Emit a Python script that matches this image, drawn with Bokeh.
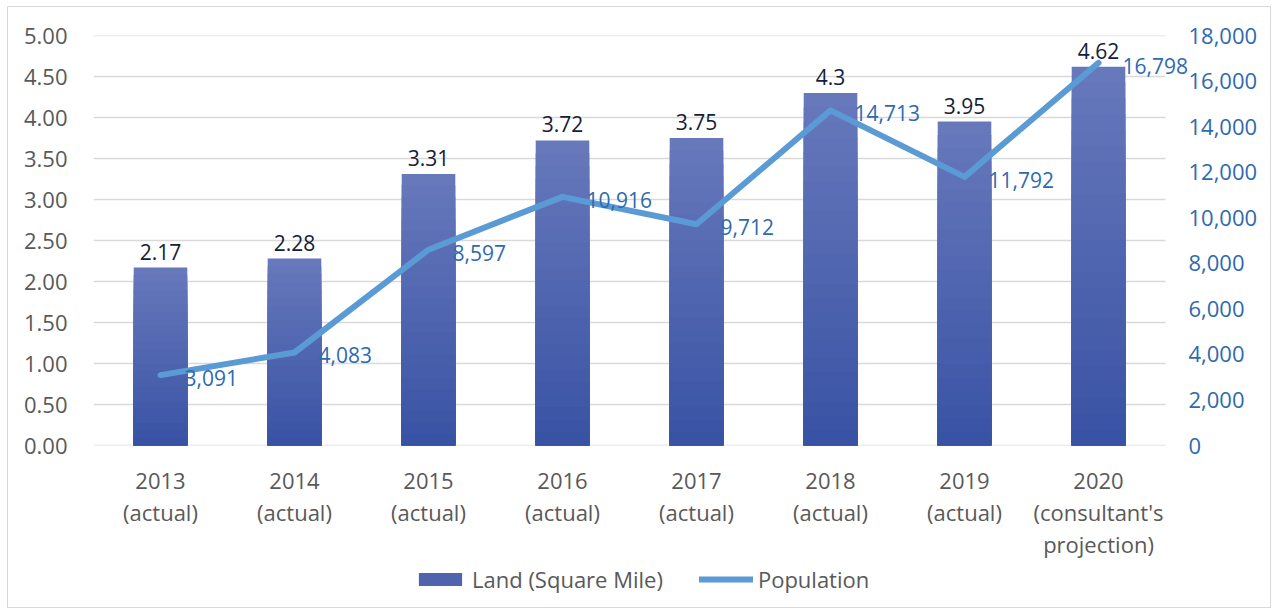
from bokeh.plotting import figure
from bokeh.layouts import column
from bokeh.models import (Range1d, LinearAxis, FixedTicker, NumeralTickFormatter,
                          ColumnDataSource, LabelSet, Legend, LegendItem)
from bokeh.core.properties import value
from bokeh.embed import file_html
from bokeh.resources import INLINE

# ---------------- data ----------------
years = ["2013", "2014", "2015", "2016", "2017", "2018", "2019", "2020"]
periods = ["(actual)", "(actual)", "(actual)", "(actual)", "(actual)", "(actual)", "(actual)",
           "(consultant's\nprojection)"]
land = [2.17, 2.28, 3.31, 3.72, 3.75, 4.3, 3.95, 4.62]
land_labels = ["2.17", "2.28", "3.31", "3.72", "3.75", "4.3", "3.95", "4.62"]
population = [3091, 4083, 8597, 10916, 9712, 14713, 11792, 16798]
left_ticks = [0, 0.5, 1.0, 1.5, 2.0, 2.5, 3.0, 3.5, 4.0, 4.5, 5.0]
right_ticks = [0, 2000, 4000, 6000, 8000, 10000, 12000, 14000, 16000, 18000]
series_names = ["Land (Square Mile)", "Population"]

FONT = "Open Sans"
FS = "22px"
GRAY = "#595959"
BLUE_TXT = "#2E6AAE"
LINE = "#5B9BD5"
BAR_MID = "#5063ad"
NAN = float("nan")

n = len(years)
xpos = [i + 0.5 for i in range(n)]          # category centres
x_end = n + 25 / 134                          # room on the right for the last label

p = figure(width=1262, height=555,
           x_range=Range1d(0, x_end), y_range=Range1d(0, 5),
           output_backend="svg", toolbar_location=None,
           min_border_left=85, min_border_right=80, min_border_top=28, min_border_bottom=117)
p.outline_line_color = None
p.background_fill_color = "white"
p.border_fill_color = "white"
p.extra_y_ranges = {"pop": Range1d(0, 18000)}

# ---------------- gridlines (only across the category span) ----------------
p.xgrid.grid_line_color = None
p.ygrid.grid_line_color = None
p.segment(x0=0, x1=n, y0=left_ticks, y1=left_ticks, line_color="#D9D9D9", line_width=1.3)

# ---------------- bars (vertical gradient via overlapping layers) ----------------
N = 24
top_rgb = (104, 121, 188)
bot_rgb = (56, 82, 163)
xs, tops, cols = [], [], []
for k in range(N):
    frac = (N - k) / N
    t = (N - k - 0.5) / N
    c = tuple(int(round(b + (a - b) * t)) for a, b in zip(top_rgb, bot_rgb))
    hexc = "#%02x%02x%02x" % c
    for xp, v in zip(xpos, land):
        xs.append(xp)
        tops.append(v * frac)
        cols.append(hexc)
bar_src = ColumnDataSource(dict(x=xs, top=tops, color=cols))
bars = p.vbar(x="x", top="top", bottom=0, width=0.4, source=bar_src,
              fill_color="color", line_color=None)

# ---------------- line ----------------
line_src = ColumnDataSource(dict(x=xpos, y=population,
                                 lab=["{:,}".format(v) for v in population]))
ln = p.line(x="x", y="y", source=line_src, y_range_name="pop",
            line_color=LINE, line_width=6, line_join="round", line_cap="round")

# ---------------- axes ----------------
def style_axis(ax, standoff, color):
    ax.axis_line_color = None
    ax.major_tick_line_color = None
    ax.minor_tick_line_color = None
    ax.major_tick_out = 0
    ax.major_tick_in = 0
    ax.minor_tick_out = 0
    ax.minor_tick_in = 0
    ax.major_label_standoff = standoff
    ax.major_label_text_font = FONT
    ax.major_label_text_font_size = FS
    ax.major_label_text_color = color

p.yaxis.ticker = FixedTicker(ticks=left_ticks)
p.yaxis.formatter = NumeralTickFormatter(format="0.00")
style_axis(p.yaxis[0], 26, GRAY)

ry = LinearAxis(y_range_name="pop", ticker=FixedTicker(ticks=right_ticks),
                formatter=NumeralTickFormatter(format="0,0"))
style_axis(ry, -2, BLUE_TXT)
p.add_layout(ry, "right")

p.xaxis.ticker = FixedTicker(ticks=xpos)
p.xaxis.major_label_overrides = {xp: f"{y}\n{per}" for xp, y, per in zip(xpos, years, periods)}
style_axis(p.xaxis[0], 19, GRAY)
p.xaxis.major_label_text_line_height = 1.083

# ---------------- data labels ----------------
land_src = ColumnDataSource(dict(x=xpos, y=land, lab=land_labels))
p.add_layout(LabelSet(x="x", y="y", text="lab", source=land_src, y_offset=8,
                      text_align="center", text_baseline="bottom",
                      text_font=value(FONT), text_font_size="21px", text_color="#14203A"))
p.add_layout(LabelSet(x="x", y="y", text="lab", source=line_src, y_range_name="pop",
                      x_offset=24, y_offset=-3, text_align="left", text_baseline="middle",
                      text_font=value(FONT), text_font_size="21px", text_color=BLUE_TXT))

# ---------------- legend (own strip below the chart) ----------------
lf = figure(width=1262, height=45, x_range=Range1d(0, 1), y_range=Range1d(0, 1),
            output_backend="svg", toolbar_location=None,
            x_axis_location=None, y_axis_location=None, min_border=0)
lf.outline_line_color = None
lf.grid.visible = False
# proxy glyphs with no drawable data; they only supply the legend swatches
lb = lf.vbar(x=[NAN], top=[NAN], width=0.4, fill_color=BAR_MID, line_color=None)
ll = lf.line(x=[NAN, NAN], y=[NAN, NAN], line_color=LINE, line_width=6, line_cap="round")
legend = Legend(items=[LegendItem(label=series_names[0], renderers=[lb]),
                       LegendItem(label=series_names[1], renderers=[ll])],
                location=(320, 13), orientation="horizontal",
                padding=0, margin=0, spacing=36, glyph_width=54, glyph_height=16,
                label_standoff=5, border_line_color=None, background_fill_alpha=0,
                label_text_font=FONT, label_text_font_size=FS, label_text_color=GRAY)
lf.add_layout(legend, "center")

layout = column(p, lf, spacing=0,
                styles={"margin-left": "7px", "margin-top": "6px",
                        "border": "1px solid #D9D9D9"})

open("out.html", "w").write(file_html(layout, INLINE))
